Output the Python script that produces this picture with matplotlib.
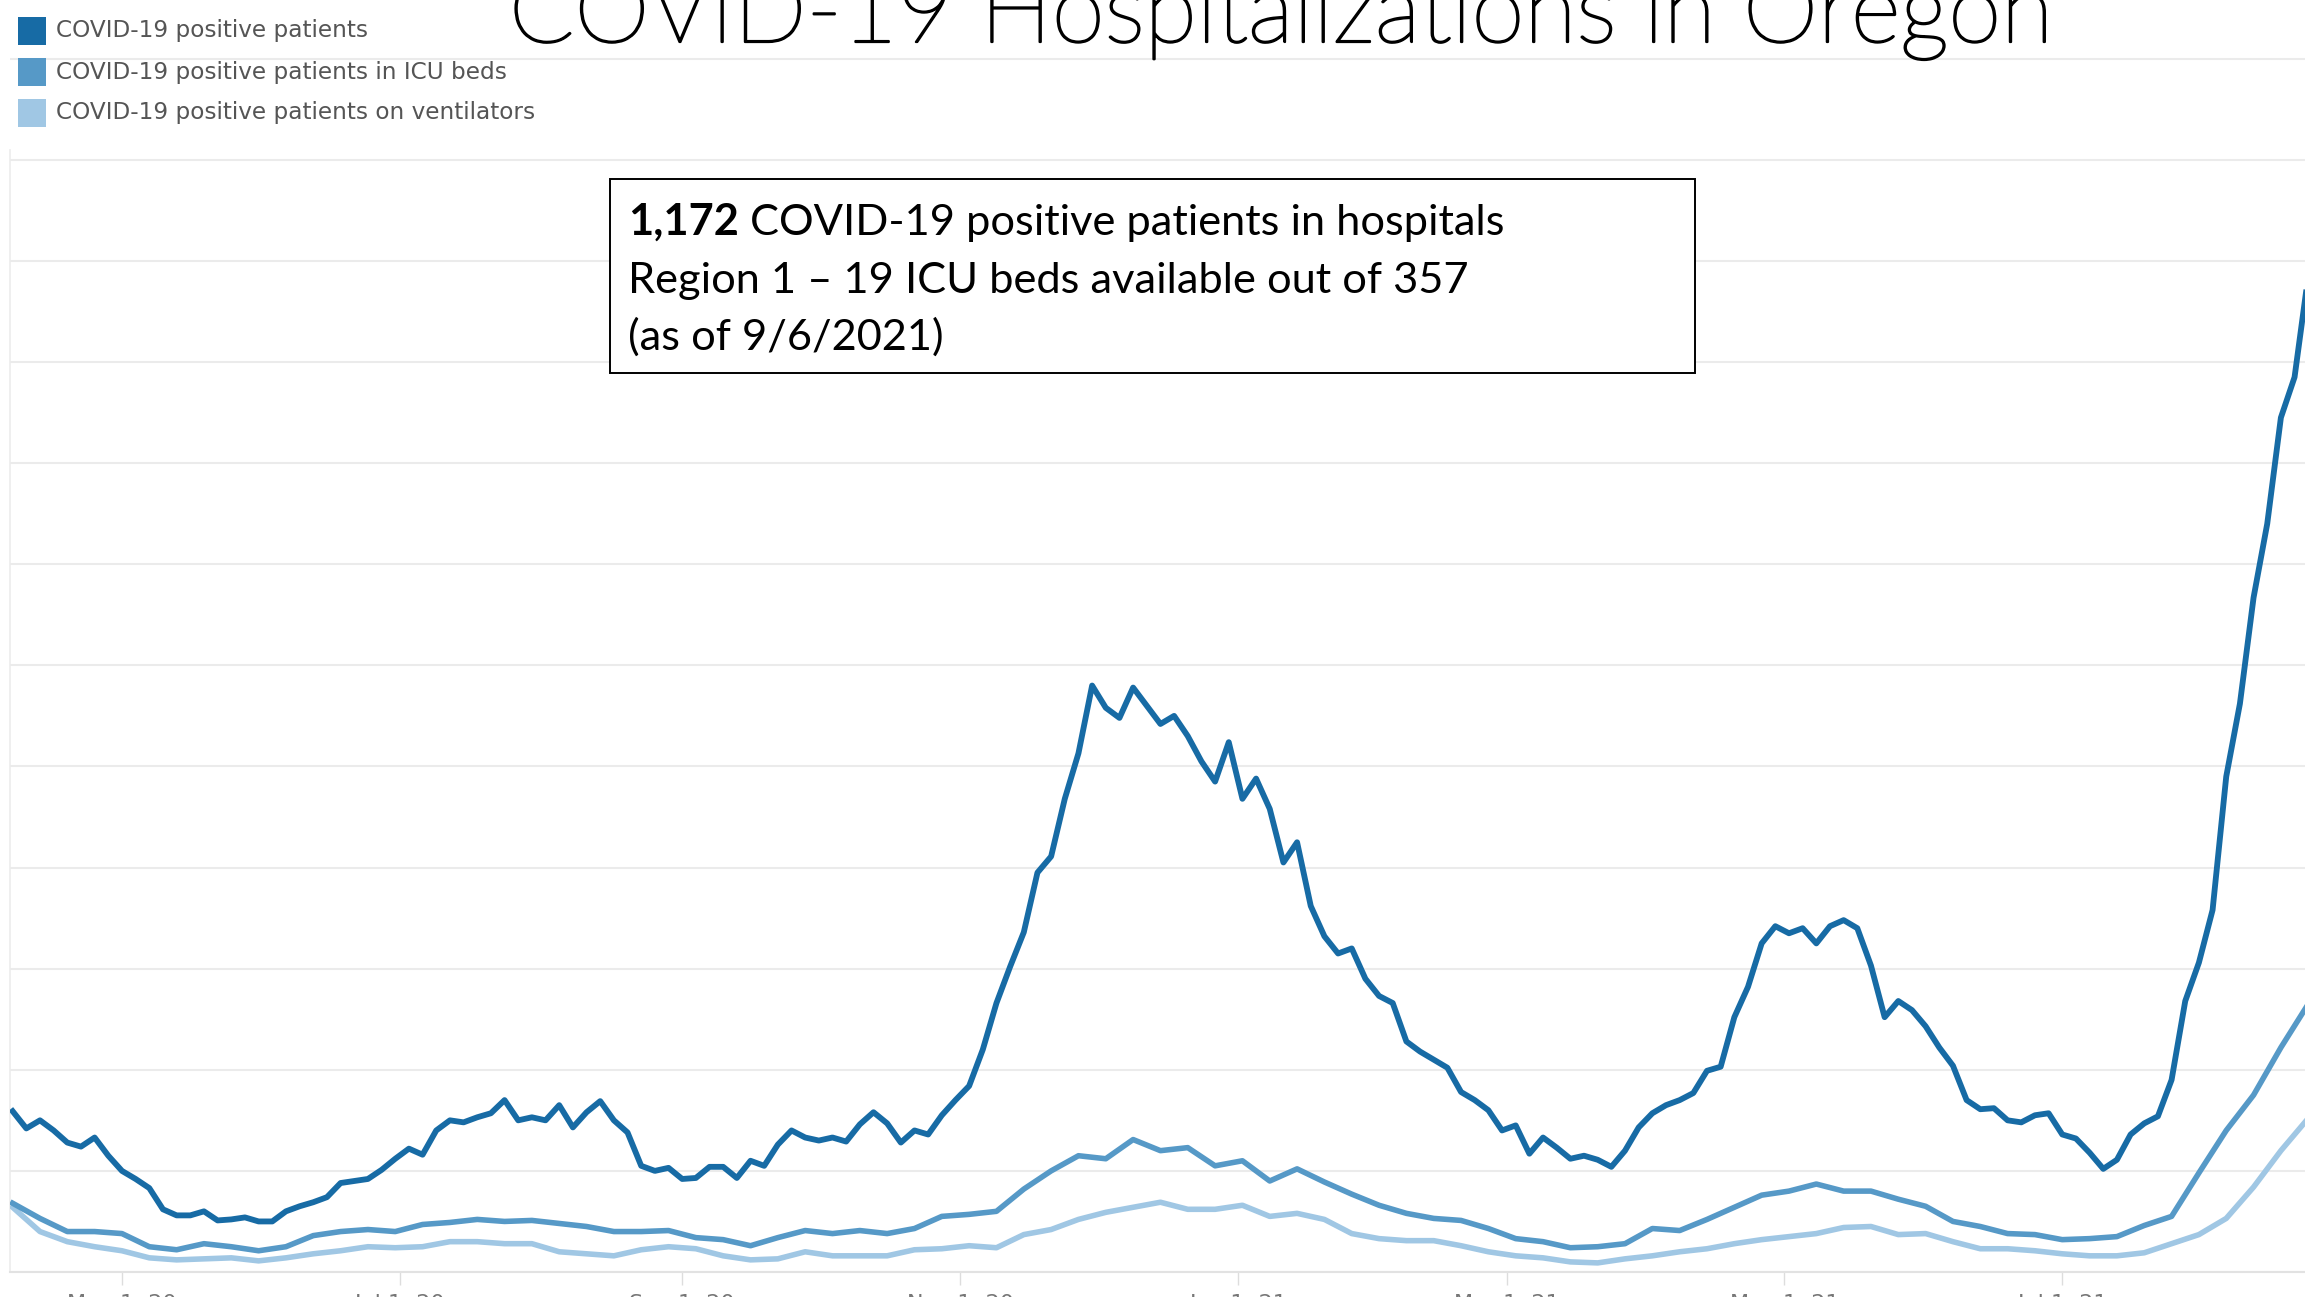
import matplotlib
matplotlib.use("Agg")
import matplotlib.pyplot as plt
import matplotlib.patheffects as pe
from matplotlib.patches import Rectangle
import pandas as pd

# ---------------- data ----------------
title = "COVID-19 Hospitalizations in Oregon"
series_names = ["COVID-19 positive patients",
                "COVID-19 positive patients in ICU beds",
                "COVID-19 positive patients on ventilators"]
start_date = "2020-04-07"

# total COVID-19 positive patients, every 3 days from start_date
patients = [159, 142, 150, 140, 128, 124, 133, 115, 100, 92,
            83, 62, 56, 56, 60, 51, 52, 54, 50, 50,
            60, 65, 69, 74, 88, 90, 92, 101, 112, 122,
            116, 140, 150, 148, 153, 157, 170, 150, 153, 150,
            165, 143, 158, 169, 150, 138, 105, 100, 103, 92,
            93, 104, 104, 93, 110, 105, 126, 140, 133, 130,
            133, 129, 146, 158, 147, 128, 140, 136, 155, 170,
            184, 220, 266, 302, 336, 395, 411, 468, 513, 580,
            558, 548, 578, 560, 542, 550, 530, 505, 485, 524,
            468, 488, 458, 405, 425, 362, 332, 315, 320, 290,
            273, 266, 228, 218, 210, 202, 178, 170, 160, 140,
            145, 117, 133, 123, 112, 115, 111, 104, 120, 143,
            157, 165, 170, 177, 199, 203, 252, 282, 325, 342,
            335, 340, 325, 342, 348, 340, 303, 252, 268, 259,
            243, 222, 204, 170, 161, 162, 150, 148, 155, 157,
            136, 132, 118, 102, 111, 136, 147, 154, 190, 268,
            306, 358, 490, 562, 667, 740, 845, 885, 985]

# ICU beds and ventilators, every 6 days from start_date
icu = [68, 53, 40, 40, 38, 25, 22, 28, 25, 21,
       25, 36, 40, 42, 40, 47, 49, 52, 50, 51,
       48, 45, 40, 40, 41, 34, 32, 26, 34, 41,
       38, 41, 38, 43, 55, 57, 60, 82, 100, 115,
       112, 131, 120, 123, 105, 110, 90, 102, 89, 77,
       66, 58, 53, 51, 43, 33, 30, 24, 25, 28,
       43, 41, 52, 64, 76, 80, 87, 80, 80, 72,
       65, 50, 45, 38, 37, 32, 33, 35, 46, 55,
       98, 140, 175, 222, 265]
vent = [64, 40, 30, 25, 21, 14, 12, 13, 14, 11,
        14, 18, 21, 25, 24, 25, 30, 30, 28, 28,
        20, 18, 16, 22, 25, 23, 16, 12, 13, 20,
        16, 16, 16, 22, 23, 26, 24, 37, 42, 52,
        59, 64, 69, 62, 62, 66, 55, 58, 52, 38,
        33, 31, 31, 26, 20, 16, 14, 10, 9, 13,
        16, 20, 23, 28, 32, 35, 38, 44, 45, 37,
        38, 30, 23, 23, 21, 18, 16, 16, 19, 28,
        37, 53, 84, 120, 152]

tick_dates = ["2020-05-01", "2020-07-01", "2020-09-01", "2020-11-01",
              "2021-01-01", "2021-03-01", "2021-05-01", "2021-07-01", "2021-09-01"]
tick_labels = ["May 1, 20", "Jul 1, 20", "Sep 1, 20", "Nov 1, 20",
               "Jan 1, 21", "Mar 1, 21", "May 1, 21", "Jul 1, 21", "Sep 1, 21"]

box_bold = "1,172"
box_line1 = " COVID-19 positive patients in hospitals"
box_line2 = "Region 1 \u2013 19 ICU beds available out of 357"
box_line3 = "(as of 9/6/2021)"

# ---------------- style ----------------
colors = ["#176ba5", "#5699c7", "#a0c7e4"]
W, H = 2305, 1297
fig = plt.figure(figsize=(W / 100, H / 100), dpi=100)
fig.patch.set_facecolor("white")

ax = fig.add_axes([10 / W, (H - 1272) / H, (W - 10) / W, 1272 / H])
ax.set_facecolor("none")

d_main = pd.date_range(start_date, periods=len(patients), freq="3D")
d_small = pd.date_range(start_date, periods=len(icu), freq="6D")

ax.plot(d_small, vent, color=colors[2], lw=4.0, solid_joinstyle="round", zorder=3)
ax.plot(d_small, icu, color=colors[1], lw=4.0, solid_joinstyle="round", zorder=4)
ax.plot(d_main, patients, color=colors[0], lw=4.2, solid_joinstyle="round", zorder=5)

ax.set_xticks(pd.to_datetime(tick_dates))
ax.set_xticklabels(tick_labels)
ax.set_xlim(pd.Timestamp("2020-04-06 10:00"), pd.Timestamp("2021-08-23 07:00"))
ax.set_ylim(0, 1258)
ax.set_yticks(range(0, 1300, 100))
ax.set_yticklabels([])
ax.tick_params(axis="y", length=0)
ax.grid(axis="y", color="#ebebeb", lw=1.5, zorder=0)
ax.tick_params(axis="x", length=9.4, width=1, color="#dddddd", labelsize=16,
               labelcolor="#777777", pad=6.5)
for s in ["top", "right"]:
    ax.spines[s].set_visible(False)
ax.spines["bottom"].set_color("#e2e2e2")
ax.spines["bottom"].set_linewidth(1.5)
ax.spines["left"].set_color("#ececec")
ax.spines["left"].set_linewidth(1.2)
ax.spines["left"].set_bounds(0, 1110)

# legend (colour swatches + labels)
leg_y = [31, 72, 113]
for c, name, yc in zip(colors, series_names, leg_y):
    fig.add_artist(Rectangle((18 / W, 1 - (yc + 14) / H), 28 / W, 28 / H,
                             transform=fig.transFigure, facecolor=c,
                             edgecolor="none"))
    fig.text(56 / W, 1 - yc / H, name, fontsize=16.7, color="#555555",
             va="center", ha="left")

# title (fit width)
t = fig.text(509 / W, 1 - 42 / H, title, fontsize=60, family="Lato",
             fontweight="light", va="baseline", ha="left", color="black",
             path_effects=[pe.withStroke(linewidth=1.6, foreground="black")])
fig.canvas.draw()
r = fig.canvas.get_renderer()
bb = t.get_window_extent(r)
t.set_fontsize(60 * 1544 / bb.width)

# annotation box
fig.add_artist(Rectangle((610 / W, 1 - 373 / H), (1695 - 610) / W, (373 - 179) / H,
                         transform=fig.transFigure, fill=True, facecolor="white",
                         edgecolor="black", lw=1.4, zorder=10))
fs = 28
tb = fig.text(628 / W, 1 - 235 / H, box_bold, fontsize=fs, family="Lato",
              fontweight="bold", va="baseline", ha="left", zorder=11)
t1 = fig.text(0, 1 - 235 / H, box_line1, fontsize=fs, family="Lato",
              va="baseline", ha="left", zorder=11)
t2 = fig.text(628 / W, 1 - 293 / H, box_line2, fontsize=fs, family="Lato",
              va="baseline", ha="left", zorder=11)
t3 = fig.text(628 / W, 1 - 350 / H, box_line3, fontsize=fs, family="Lato",
              va="baseline", ha="left", zorder=11)
fig.canvas.draw()
wb = tb.get_window_extent(r).width
w1 = t1.get_window_extent(r).width
k = 877 / (wb + w1)
for tt in (tb, t1, t2, t3):
    tt.set_fontsize(fs * k)
fig.canvas.draw()
wb = tb.get_window_extent(r).width
t1.set_x((628 + wb) / W)

fig.savefig("out.png", dpi=100, facecolor="white")
